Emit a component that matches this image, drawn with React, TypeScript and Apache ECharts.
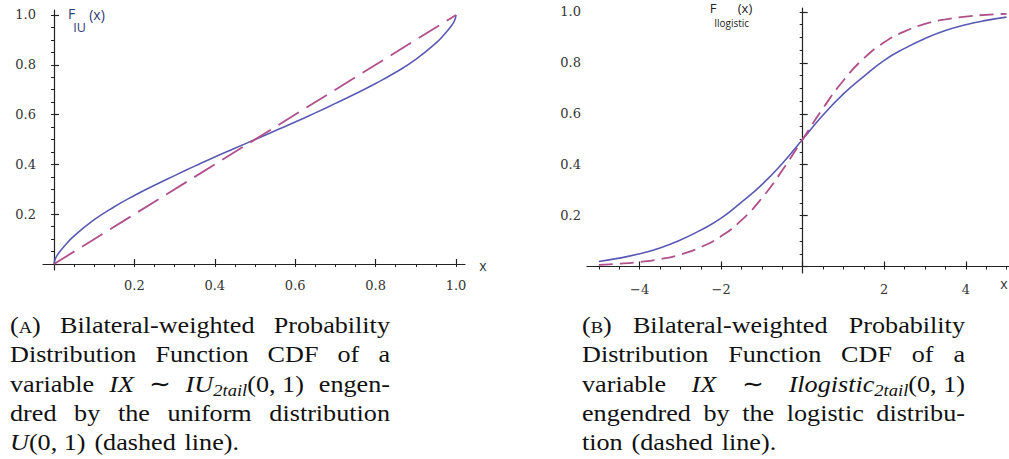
import React, { useEffect, useRef } from "react";
import * as echarts from "echarts";

// ---------- Panel A: IU_2tail(0,1) vs U(0,1) ----------
const iuX = [0, 0.003, 0.01, 0.025, 0.05, 0.1, 0.15, 0.2, 0.25, 0.3, 0.35, 0.4, 0.45, 0.5, 0.55, 0.6, 0.65, 0.7, 0.75, 0.8, 0.85, 0.9, 0.95, 0.975, 0.99, 0.997, 1];
const iuY = [0, 0.02, 0.04, 0.07, 0.113, 0.178, 0.23, 0.275, 0.316, 0.355, 0.393, 0.43, 0.465, 0.5, 0.535, 0.57, 0.607, 0.645, 0.684, 0.725, 0.77, 0.822, 0.887, 0.93, 0.96, 0.98, 1];
const uniX = [0, 1];
const uniY = [0, 1];
const aXLabels = [0.2, 0.4, 0.6, 0.8, 1.0];
const aYLabels = [0.2, 0.4, 0.6, 0.8, 1.0];
const aXMajor = [0, 0.2, 0.4, 0.6, 0.8, 1.0];
const aYMajor = [0, 0.2, 0.4, 0.6, 0.8, 1.0];

// ---------- Panel B: Ilogistic_2tail(0,1) vs logistic ----------
const bX = [-5, -4.5, -4, -3.5, -3, -2.5, -2, -1.5, -1, -0.5, 0, 0.5, 1, 1.5, 2, 2.5, 3, 3.5, 4, 4.5, 5];
const ilogY = [0.02, 0.033, 0.05, 0.073, 0.104, 0.143, 0.19, 0.253, 0.322, 0.405, 0.5, 0.595, 0.678, 0.747, 0.81, 0.857, 0.896, 0.927, 0.95, 0.967, 0.98];
const logY = [0.0067, 0.011, 0.018, 0.029, 0.047, 0.076, 0.119, 0.182, 0.269, 0.378, 0.5, 0.622, 0.731, 0.818, 0.881, 0.924, 0.953, 0.971, 0.982, 0.989, 0.993];
const bXLabels = [-4, -2, 2, 4];
const bYLabels = [0.2, 0.4, 0.6, 0.8, 1.0];
const bXMajor = [-4, -2, 0, 2, 4];
const bYMajor = [0, 0.2, 0.4, 0.6, 0.8, 1.0];

type Seg = { t: string; st: "n" | "i" | "sc" | "sub" };
const N = (t: string): Seg => ({ t, st: "n" });
const I = (t: string): Seg => ({ t, st: "i" });
const SC = (t: string): Seg => ({ t, st: "sc" });
const SUB = (t: string): Seg => ({ t, st: "sub" });

const captionA: Seg[][][] = [
  [[N("("), SC("A"), N(")")], [N("Bilateral-weighted")], [N("Probability")]],
  [[N("Distribution")], [N("Function")], [N("CDF")], [N("of")], [N("a")]],
  [[N("variable")], [I("IX")], [N("∼")], [I("IU"), SUB("2tail"), N("(0, 1)")], [N("engen-")]],
  [[N("dred")], [N("by")], [N("the")], [N("uniform")], [N("distribution")]],
  [[I("U"), N("(0, 1)")], [N("(dashed")], [N("line).")]],
];
const captionB: Seg[][][] = [
  [[N("("), SC("B"), N(")")], [N("Bilateral-weighted")], [N("Probability")]],
  [[N("Distribution")], [N("Function")], [N("CDF")], [N("of")], [N("a")]],
  [[N("variable")], [I("IX")], [N("∼")], [I("Ilogistic"), SUB("2tail"), N("(0, 1)")]],
  [[N("engendred")], [N("by")], [N("the")], [N("logistic")], [N("distribu-")]],
  [[N("tion")], [N("(dashed")], [N("line).")]],
];

function range(a: number, b: number, step: number) {
  const out: number[] = [];
  const n = Math.round((b - a) / step);
  for (let k = 0; k <= n; k++) out.push(Math.round((a + k * step) * 1000) / 1000);
  return out;
}

const AXIS = "#222";
const SERIF = "'Liberation Serif', 'Times New Roman', serif";
const TICK_FONT = "'DejaVu Serif', 'Liberation Serif', serif";
const CAP_SIZE = 24;
const SMALL = 17;
const STRETCH = 1.09;
const BASELINES = [333, 362, 391.5, 420.5, 449.5];

function segFont(s: Seg) {
  const size = s.st === "sc" || s.st === "sub" ? SMALL : CAP_SIZE;
  const italic = s.st === "i" || s.st === "sub";
  return { size, italic };
}

function buildCaption(lines: Seg[][][], left: number, right: number, ctx: CanvasRenderingContext2D) {
  const els: any[] = [];
  const measure = (s: Seg) => {
    const f = segFont(s);
    ctx.font = `${f.italic ? "italic " : ""}${f.size}px ${SERIF}`;
    return ctx.measureText(s.t).width * STRETCH;
  };
  ctx.font = `${CAP_SIZE}px ${SERIF}`;
  const space = ctx.measureText(" ").width * 1.35 * STRETCH;
  lines.forEach((words, li) => {
    const ww = words.map((w) => w.reduce((acc, s) => acc + measure(s), 0));
    const total = ww.reduce((a, b) => a + b, 0);
    const last = li === lines.length - 1;
    const gap = last || words.length < 2 ? space : (right - left - total) / (words.length - 1);
    let x = left;
    words.forEach((w, wi) => {
      let sx = x;
      w.forEach((s) => {
        const f = segFont(s);
        const base = BASELINES[li] + (s.st === "sub" ? 5 : 0);
        els.push({
          type: "text",
          x: sx,
          y: base - 0.3375 * f.size,
          scaleX: STRETCH,
          silent: true,
          style: {
            text: s.t,
            fontFamily: SERIF,
            fontSize: f.size,
            fontStyle: f.italic ? "italic" : "normal",
            fill: "#111",
            align: "left",
            verticalAlign: "middle",
          },
        });
        sx += measure(s);
      });
      x += ww[wi] + gap;
    });
  });
  return els;
}

function label(text: string, x: number, y: number, size: number, color: string, family = "'Open Sans', sans-serif") {
  return {
    type: "text",
    x,
    y,
    silent: true,
    style: { text, fontFamily: family, fontSize: size, fill: color, align: "center", verticalAlign: "middle" },
  };
}

function mainAxis(gridIndex: number, min: number, max: number, majors: number[], labels: number[], fmt: (v: number) => string, margin: number, onZeroIdx: number) {
  return {
    type: "value",
    gridIndex,
    min,
    max,
    axisLine: { show: true, onZero: true, onZeroAxisIndex: onZeroIdx, lineStyle: { color: AXIS, width: 1.2 } },
    axisTick: { show: true, inside: true, length: 5, customValues: majors, lineStyle: { color: AXIS, width: 1.2 } },
    axisLabel: {
      show: true,
      customValues: labels,
      formatter: fmt,
      margin,
      color: "#333",
      fontFamily: TICK_FONT,
      fontSize: 13,
    },
    splitLine: { show: false },
    minorTick: { show: false },
  };
}

function minorAxis(gridIndex: number, min: number, max: number, minors: number[], onZeroIdx: number) {
  return {
    type: "value",
    gridIndex,
    min,
    max,
    axisLine: { show: false, onZero: true, onZeroAxisIndex: onZeroIdx },
    axisTick: { show: true, inside: true, length: 3, customValues: minors, lineStyle: { color: AXIS, width: 1 } },
    axisLabel: { show: false },
    splitLine: { show: false },
  };
}

const fmt1 = (v: number) => v.toFixed(1);
const fmtInt = (v: number) => (v < 0 ? "−" + Math.abs(v) : String(v));

export default function App() {
  const ref = useRef<HTMLDivElement>(null);
  useEffect(() => {
    if (!ref.current) return;
    const chart = echarts.init(ref.current, undefined, { renderer: "svg" });
    const canvas = document.createElement("canvas");
    const ctx = canvas.getContext("2d") as CanvasRenderingContext2D;

    const graphics = [
      label("F", 71.7, 13, 14, "#2d3b73"),
      label("IU", 79.5, 27.5, 12.5, "#2d3b73"),
      label("(x)", 97, 14.5, 14, "#2d3b73"),
      label("x", 483, 265.5, 14, "#333"),
      label("F", 713, 8, 13, "#222"),
      label("(x)", 745, 8, 13, "#222"),
      label("Ilogistic", 731.7, 23, 10, "#222"),
      label("x", 1004, 283, 14, "#333"),
      ...buildCaption(captionA, 10, 390, ctx),
      ...buildCaption(captionB, 582, 965, ctx),
    ];

    const solid = { color: "#5a5ab4", width: 1.6 };
    chart.setOption({
      animation: false,
      backgroundColor: "#fff",
      grid: [
        { left: 43, top: 10, width: 422, height: 260 },
        { left: 587, top: 8, width: 422, height: 265 },
      ],
      xAxis: [
        mainAxis(0, -0.0274, 1.0224, aXMajor, aXLabels, fmt1, 9, 0),
        minorAxis(0, -0.0274, 1.0224, range(0, 1, 0.05), 0),
        mainAxis(1, -5.29, 5.06, bXMajor, bXLabels, fmtInt, 9.5, 2),
        minorAxis(1, -5.29, 5.06, range(-5, 5, 0.5), 2),
      ],
      yAxis: [
        mainAxis(0, -0.024, 1.02, aYMajor, aYLabels, fmt1, 7, 0),
        minorAxis(0, -0.024, 1.02, range(0, 1, 0.05), 0),
        mainAxis(1, -0.0255, 1.0157, bYMajor, bYLabels, fmt1, 6, 2),
        minorAxis(1, -0.0255, 1.0157, range(0, 1, 0.05), 2),
      ],
      graphic: graphics,
      series: [
        {
          type: "line",
          xAxisIndex: 0,
          yAxisIndex: 0,
          data: iuX.map((x, i) => [x, iuY[i]]),
          smooth: 0.5,
          showSymbol: false,
          lineStyle: solid,
          z: 3,
        },
        {
          type: "line",
          xAxisIndex: 0,
          yAxisIndex: 0,
          data: uniX.map((x, i) => [x, uniY[i]]),
          showSymbol: false,
          lineStyle: { color: "#b0508a", width: 1.8, type: [24, 9] },
          z: 4,
        },
        {
          type: "line",
          xAxisIndex: 2,
          yAxisIndex: 2,
          data: bX.map((x, i) => [x, ilogY[i]]),
          smooth: 0.5,
          showSymbol: false,
          lineStyle: solid,
          z: 3,
        },
        {
          type: "line",
          xAxisIndex: 2,
          yAxisIndex: 2,
          data: bX.map((x, i) => [x, logY[i]]),
          smooth: 0.5,
          showSymbol: false,
          lineStyle: { color: "#b0508a", width: 1.8, type: [14, 7] },
          z: 4,
        },
      ],
    });
    return () => chart.dispose();
  }, []);
  return (
    <div
      ref={ref}
      style={{ position: "fixed", left: 0, top: 0, width: 1009, height: 459, background: "#fff" }}
    />
  );
}
